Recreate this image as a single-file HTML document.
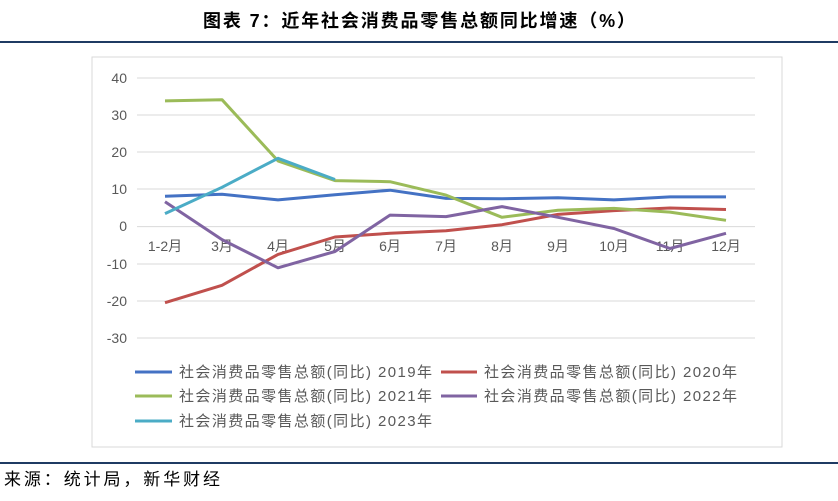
<!DOCTYPE html>
<html><head><meta charset="utf-8"><style>
body{margin:0;background:#fff;width:838px;height:496px;overflow:hidden;font-family:"Liberation Sans","Noto Sans CJK SC",sans-serif;}
</style></head><body>
<svg width="838" height="496" xmlns="http://www.w3.org/2000/svg" font-family="Liberation Sans, Noto Sans CJK SC, sans-serif">
<text x="419" y="27" text-anchor="middle" font-size="18" font-weight="bold" fill="#000" textLength="432">图表 7：近年社会消费品零售总额同比增速（%）</text>
<line x1="0" y1="42" x2="838" y2="42" stroke="#1f3b63" stroke-width="2"/>
<rect x="92" y="57" width="690" height="390" fill="#fff" stroke="#d9d9d9"/>
<g stroke="#d9d9d9" stroke-width="1">
<line x1="137" y1="78" x2="755" y2="78"/><line x1="137" y1="115" x2="755" y2="115"/>
<line x1="137" y1="152" x2="755" y2="152"/><line x1="137" y1="189" x2="755" y2="189"/>
<line x1="137" y1="226.6" x2="755" y2="226.6"/><line x1="137" y1="264" x2="755" y2="264"/>
<line x1="137" y1="301" x2="755" y2="301"/><line x1="137" y1="338" x2="755" y2="338"/>
</g>
<g font-size="14" fill="#595959" text-anchor="end">
<text x="127" y="83">40</text><text x="127" y="120">30</text><text x="127" y="157">20</text>
<text x="127" y="194">10</text><text x="127" y="231">0</text><text x="127" y="269">-10</text>
<text x="127" y="306">-20</text><text x="127" y="343">-30</text>
</g>
<g font-size="14" fill="#595959" text-anchor="middle">
<text x="165" y="251">1-2月</text><text x="222" y="251">3月</text><text x="278" y="251">4月</text>
<text x="335" y="251">5月</text><text x="390" y="251">6月</text><text x="446" y="251">7月</text>
<text x="502" y="251">8月</text><text x="558" y="251">9月</text><text x="614" y="251">10月</text>
<text x="670" y="251">11月</text><text x="726" y="251">12月</text>
</g>
<g fill="none" stroke-width="3" stroke-linejoin="round">
<polyline stroke="#4472c4" points="165,196.2 222,194.3 278,199.9 335,194.7 390,190.2 446,198.4 502,198.8 558,197.7 614,199.9 670,196.9 726,196.9"/>
<polyline stroke="#c0504d" points="165,302.7 222,285.3 278,254.4 335,237 390,233.3 446,230.7 502,224.7 558,214.4 614,210.6 670,208 726,209.5"/>
<polyline stroke="#9bbb59" points="165,100.9 222,99.7 278,160.9 335,180.6 390,181.7 446,195.1 502,217.3 558,210.3 614,208.4 670,212.1 726,220.3"/>
<polyline stroke="#8064a2" points="165,201.7 222,239.6 278,267.8 335,251.5 390,215.1 446,216.6 502,206.6 558,217.3 614,228.5 670,248.5 726,233.3"/>
<polyline stroke="#4bacc6" points="165,213.6 222,187.3 278,158.3 335,179.5"/>
</g>
<g font-size="15" fill="#595959">
<line x1="135" y1="372" x2="172" y2="372" stroke="#4472c4" stroke-width="3"/><text x="179" y="377" textLength="253">社会消费品零售总额(同比) 2019年</text>
<line x1="441" y1="372" x2="477" y2="372" stroke="#c0504d" stroke-width="3"/><text x="484" y="377" textLength="253">社会消费品零售总额(同比) 2020年</text>
<line x1="135" y1="396" x2="172" y2="396" stroke="#9bbb59" stroke-width="3"/><text x="179" y="401" textLength="253">社会消费品零售总额(同比) 2021年</text>
<line x1="441" y1="396" x2="477" y2="396" stroke="#8064a2" stroke-width="3"/><text x="484" y="401" textLength="253">社会消费品零售总额(同比) 2022年</text>
<line x1="135" y1="421" x2="172" y2="421" stroke="#4bacc6" stroke-width="3"/><text x="179" y="426" textLength="253">社会消费品零售总额(同比) 2023年</text>
</g>
<line x1="0" y1="463" x2="838" y2="463" stroke="#1f3b63" stroke-width="2"/>
<text x="4" y="485" font-size="17" fill="#000" textLength="216">来源：统计局，新华财经</text>
</svg>
</body></html>
